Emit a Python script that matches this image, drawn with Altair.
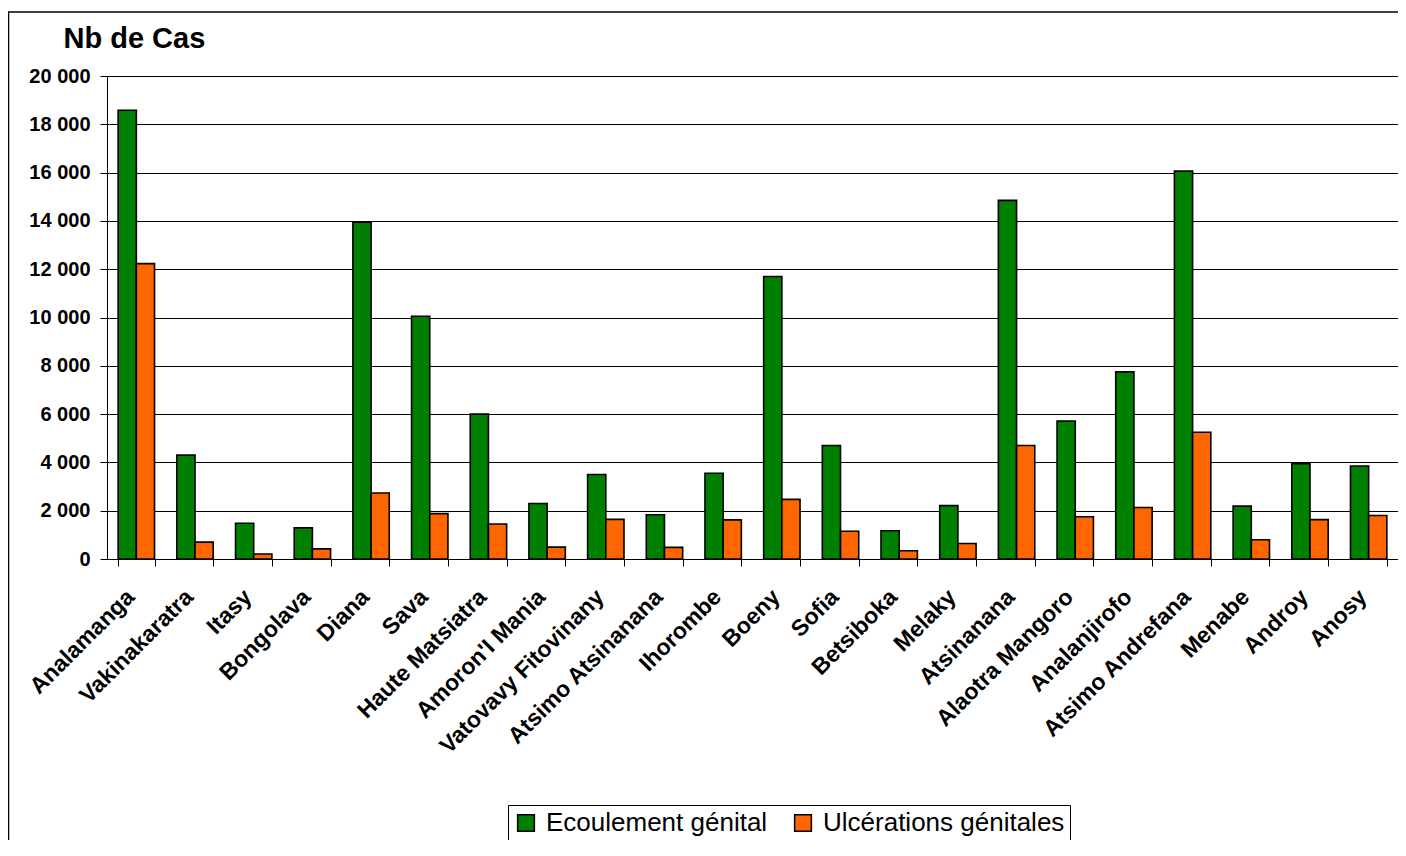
import altair as alt
import pandas as pd

regions = ["Analamanga", "Vakinakaratra", "Itasy", "Bongolava", "Diana", "Sava",
           "Haute Matsiatra", "Amoron'I Mania", "Vatovavy Fitovinany", "Atsimo Atsinanana",
           "Ihorombe", "Boeny", "Sofia", "Betsiboka", "Melaky", "Atsinanana",
           "Alaotra Mangoro", "Analanjirofo", "Atsimo Andrefana", "Menabe", "Androy", "Anosy"]
series = ["Ecoulement génital", "Ulcérations génitales"]
ecoulement = [18580, 4300, 1480, 1290, 13950, 10050, 6000, 2300, 3500, 1830,
              3550, 11700, 4700, 1170, 2210, 14850, 5710, 7750, 16060, 2190, 3950, 3850]
ulcerations = [12230, 700, 210, 420, 2730, 1880, 1450, 490, 1640, 480,
               1620, 2470, 1150, 340, 640, 4700, 1750, 2130, 5250, 800, 1630, 1800]
colors = ["#008000", "#FF6600"]
y_ticks = list(range(0, 20001, 2000))

rows = []
for i, r in enumerate(regions):
    rows.append({"region": r, "serie": series[0], "value": ecoulement[i]})
    rows.append({"region": r, "serie": series[1], "value": ulcerations[i]})
df = pd.DataFrame(rows)

FONT = "Liberation Sans"
W, H = 1291, 483

bars = alt.Chart(df).mark_bar(stroke="black", strokeWidth=1.6).encode(
    x=alt.X("region:N", sort=regions,
            scale=alt.Scale(paddingInner=0.38, paddingOuter=0.19),
            axis=alt.Axis(title=None, labelAngle=-45, labelAlign="right",
                          labelBaseline="middle", labelFont=FONT, labelFontSize=23,
                          labelFontWeight="bold", labelColor="black", labelPadding=27,
                          labelOffset=-6,
                          tickBand="extent", tickSize=7, tickColor="black",
                          domainColor="black", domainWidth=1, labelLimit=400)),
    xOffset=alt.XOffset("serie:N", sort=series,
                        scale=alt.Scale(paddingInner=0, paddingOuter=0)),
    y=alt.Y("value:Q", scale=alt.Scale(domain=[0, 20000], nice=False),
            axis=alt.Axis(title="Nb de Cas", titleAngle=0, titleAlign="left",
                          titleBaseline="alphabetic", titleX=-44, titleY=-29,
                          titleFont=FONT, titleFontSize=29, titleFontWeight="bold",
                          titleColor="black",
                          values=y_ticks,
                          labelExpr="replace(format(datum.value, ','), ',', ' ')",
                          labelFont=FONT, labelFontSize=20, labelFontWeight="bold",
                          labelColor="black", labelPadding=10,
                          tickSize=7, tickColor="black", domainColor="black",
                          grid=True, gridColor="black", gridWidth=1)),
    color=alt.Color("serie:N", sort=series,
                    scale=alt.Scale(domain=series, range=colors),
                    legend=alt.Legend(title=None, orient="none", direction="horizontal",
                                      legendX=401, legendY=729,
                                      symbolType="square", symbolSize=280,
                                      symbolStrokeColor="black", symbolStrokeWidth=1.5,
                                      symbolOpacity=1,
                                      labelFont=FONT, labelFontSize=26, labelColor="black",
                                      labelLimit=400, columnPadding=22, labelOffset=7,
                                      strokeColor="black", padding=5)),
)

frame_top = alt.Chart(alt.Data(values=[{}])).mark_rect(
    color="black", strokeWidth=0
).encode(x=alt.value(-99.25), x2=alt.value(W), y=alt.value(-64.75), y2=alt.value(-63.25))

frame_left = alt.Chart(alt.Data(values=[{}])).mark_rect(
    color="black", strokeWidth=0
).encode(x=alt.value(-99.25), x2=alt.value(-97.75), y=alt.value(-64.75), y2=alt.value(H + 300))

chart = alt.layer(frame_top, frame_left, bars).properties(
    width=W, height=H,
    padding={"left": 99, "top": 68, "right": 0, "bottom": 281},
    autosize=alt.AutoSizeParams(type="none"),
).configure_view(fill="#C0C0C0", stroke="transparent").configure(background="white")

chart.save("out.html", embed_options={"renderer": "svg", "actions": False})
